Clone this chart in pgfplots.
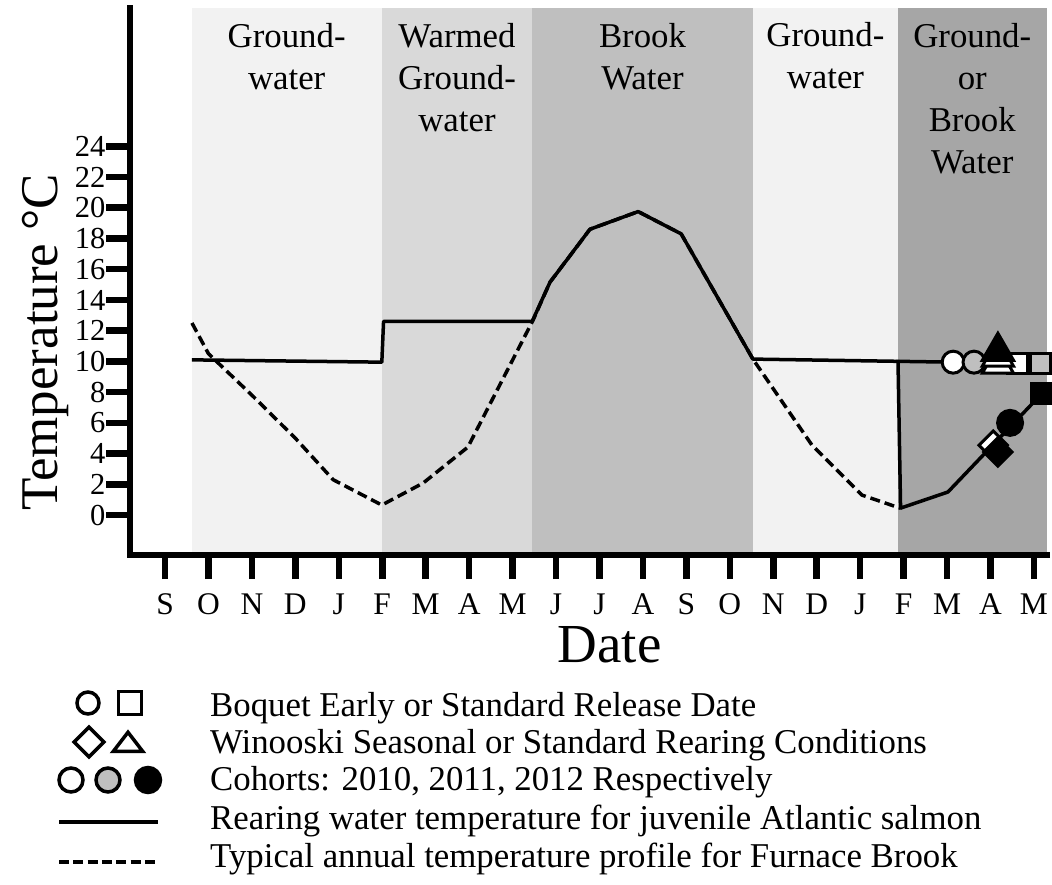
\documentclass[border=0pt]{standalone}
\usepackage{pgfplots}
\pgfplotsset{compat=1.18}
\usepackage{fontspec}
\setmainfont{Liberation Serif}

\definecolor{bandlight}{HTML}{F2F2F2}
\definecolor{bandmid}{HTML}{D9D9D9}
\definecolor{banddark}{HTML}{BFBFBF}
\definecolor{banddeep}{HTML}{A6A6A6}
\definecolor{cohortgrey}{HTML}{BFBFBF}

\newcommand{\bandfont}{\fontsize{34.8}{42}\selectfont}
\newcommand{\keyfont}{\fontsize{34.8}{40}\selectfont}

% Typical annual temperature profile for Furnace Brook (months from September)
\pgfplotstableread{
x y
0.62 12.5
1.00 10.5
2.00 7.8
3.00 5.0
3.87 2.3
4.99 0.65
5.94 2.08
6.97 4.42
8.47 12.68
8.86 15.15
9.78 18.6
10.89 19.75
11.88 18.3
13.53 10.15
14.89 4.55
16.04 1.3
16.92 0.45
}\brookprofile

% Rearing water temperature, standard schedule
\pgfplotstableread{
x y
0.62 10.1
4.99 9.95
5.03 12.6
8.45 12.6
8.86 15.15
9.78 18.6
10.89 19.75
11.88 18.3
13.53 10.15
18.14 9.95
}\rearingmain

% Rearing water temperature, brook-water branch
\pgfplotstableread{
x y
16.87 10.1
16.93 0.45
18.02 1.5
20.18 7.9
}\rearingbrook

\begin{document}
\begin{tikzpicture}
\useasboundingbox (0pt,0pt) rectangle (1052pt,884pt);

\begin{axis}[
  at={(130pt,329pt)}, anchor=south west,
  scale only axis, width=917pt, height=547pt,
  xmin=-0.806, xmax=20.3, ymin=-2.6, ymax=33,
  axis lines=left,
  axis line style={-, line width=6pt, line cap=rect},
  axis on top,
  clip=false,
  xtick={0,...,20},
  xticklabels={S,O,N,D,J,F,M,A,M,J,J,A,S,O,N,D,J,F,M,A,M},
  ytick={0,2,...,24},
  tick align=outside,
  major tick length=24pt,
  tick style={line width=6.5pt, black},
  /pgf/number format/assume math mode=true,
  xticklabel style={font=\fontsize{31.5}{37}\selectfont, yshift=-11pt},
  yticklabel style={font=\fontsize{30.5}{36}\selectfont, xshift=3pt},
  xlabel={Date},
  xlabel style={at={(axis description cs:0.523,-0.1974)}, anchor=base,
    font=\fontsize{55}{66}\selectfont},
  ylabel={Temperature °C},
  ylabel style={at={(axis description cs:-0.0796,0.389)}, anchor=base,
    font=\fontsize{53}{64}\selectfont},
]

% water-source periods
\addplot[fill=bandlight, draw=none] coordinates {(0.62,-2.6) (0.62,33) (4.99,33) (4.99,-2.6)};
\addplot[fill=bandmid, draw=none] coordinates {(4.99,-2.6) (4.99,33) (8.45,33) (8.45,-2.6)};
\addplot[fill=banddark, draw=none] coordinates {(8.45,-2.6) (8.45,33) (13.53,33) (13.53,-2.6)};
\addplot[fill=bandlight, draw=none] coordinates {(13.53,-2.6) (13.53,33) (16.87,33) (16.87,-2.6)};
\addplot[fill=banddeep, draw=none] coordinates {(16.87,-2.6) (16.87,33) (20.3,33) (20.3,-2.6)};

\node[align=center, anchor=north, font=\bandfont, inner sep=0pt] at (axis cs:2.80,32.0) {Ground-\\water};
\node[align=center, anchor=north, font=\bandfont, inner sep=0pt] at (axis cs:6.72,32.0) {Warmed\\Ground-\\water};
\node[align=center, anchor=north, font=\bandfont, inner sep=0pt] at (axis cs:10.99,32.0) {Brook\\Water};
\node[align=center, anchor=north, font=\bandfont, inner sep=0pt] at (axis cs:15.20,32.1) {Ground-\\water};
\node[align=center, anchor=north, font=\bandfont, inner sep=0pt] at (axis cs:18.58,32.0) {Ground-\\or\\Brook\\Water};

% temperature curves
\addplot[black, line width=3.5pt, dash pattern=on 10pt off 5pt, line join=round] table {\brookprofile};
\addplot[black, line width=3.5pt, line join=round] table {\rearingmain};
\addplot[black, line width=3.5pt, line join=round] table {\rearingbrook};

% release / rearing markers
\addplot[only marks, mark=*, mark size=11pt, mark options={fill=white, draw=black, line width=3pt}] coordinates {(18.14,9.95)};
\addplot[only marks, mark=*, mark size=11pt, mark options={fill=cohortgrey, draw=black, line width=3pt}] coordinates {(18.62,9.95)};
\addplot[only marks, mark=square*, mark size=10pt, mark options={fill=white, draw=black, line width=3pt}] coordinates {(19.63,9.85)};
\addplot[only marks, mark=square*, mark size=10pt, mark options={fill=cohortgrey, draw=black, line width=3pt}] coordinates {(20.14,9.85)};
\addplot[only marks, mark=triangle*, mark size=18pt, mark options={fill=white, draw=black, line width=3pt}] coordinates {(19.17,9.82)};
\addplot[only marks, mark=triangle*, mark size=18pt, mark options={fill=white, draw=black, line width=3pt}] coordinates {(19.17,10.28)};
\addplot[only marks, mark=triangle*, mark size=18pt, mark options={fill=black, draw=black, line width=3pt}] coordinates {(19.17,10.66)};
\addplot[only marks, mark=square*, mark size=10pt, mark options={fill=white, draw=black, line width=3pt, rotate=45}] coordinates {(19.06,4.55)};
\addplot[only marks, mark=square*, mark size=10pt, mark options={fill=black, draw=black, line width=3pt, rotate=45}] coordinates {(19.17,4.1)};
\addplot[only marks, mark=*, mark size=12.5pt, mark options={fill=black, draw=black, line width=3pt}] coordinates {(19.45,6.0)};
\addplot[only marks, mark=square*, mark size=10pt, mark options={fill=black, draw=black, line width=3pt}] coordinates {(20.18,7.9)};
\end{axis}

% key below the plot
\begin{axis}[
  at={(0pt,0pt)}, anchor=south west,
  scale only axis, width=1052pt, height=884pt,
  xmin=0, xmax=1052, ymin=0, ymax=884, y dir=reverse,
  hide axis, clip=false,
]
\addplot[only marks, mark=*, mark size=11pt, mark options={fill=white, draw=black, line width=3.5pt}] coordinates {(88,703)};
\addplot[only marks, mark=square*, mark size=11.5pt, mark options={fill=white, draw=black, line width=3.5pt}] coordinates {(130,703)};
\addplot[only marks, mark=square*, mark size=10.5pt, mark options={fill=white, draw=black, line width=3.5pt, rotate=45}] coordinates {(89,742)};
\addplot[only marks, mark=triangle*, mark size=17pt, mark options={fill=white, draw=black, line width=3.5pt, yscale=0.75}] coordinates {(128,745)};
\addplot[only marks, mark=*, mark size=12pt, mark options={fill=white, draw=black, line width=3.5pt}] coordinates {(71,780)};
\addplot[only marks, mark=*, mark size=12pt, mark options={fill=cohortgrey, draw=black, line width=3.5pt}] coordinates {(108,780)};
\addplot[only marks, mark=*, mark size=12.5pt, mark options={fill=black, draw=black, line width=3.5pt}] coordinates {(148,780)};
\addplot[black, line width=4.5pt] coordinates {(59,822) (158,822)};
\addplot[black, line width=4pt, dash pattern=on 10pt off 4.3pt] coordinates {(59,862) (158,862)};

\node[anchor=base west, font=\keyfont, inner sep=0pt] at (axis cs:210,716) {Boquet Early or Standard Release Date};
\node[anchor=base west, font=\keyfont, inner sep=0pt] at (axis cs:210,753) {Winooski Seasonal or Standard Rearing Conditions};
\node[anchor=base west, font=\keyfont, inner sep=0pt] at (axis cs:210,790) {Cohorts: 2010, 2011, 2012 Respectively};
\node[anchor=base west, font=\keyfont, inner sep=0pt] at (axis cs:210,829) {Rearing water temperature for juvenile Atlantic salmon};
\node[anchor=base west, font=\keyfont, inner sep=0pt] at (axis cs:210,867) {Typical annual temperature profile for Furnace Brook};
\end{axis}
\end{tikzpicture}
\end{document}
